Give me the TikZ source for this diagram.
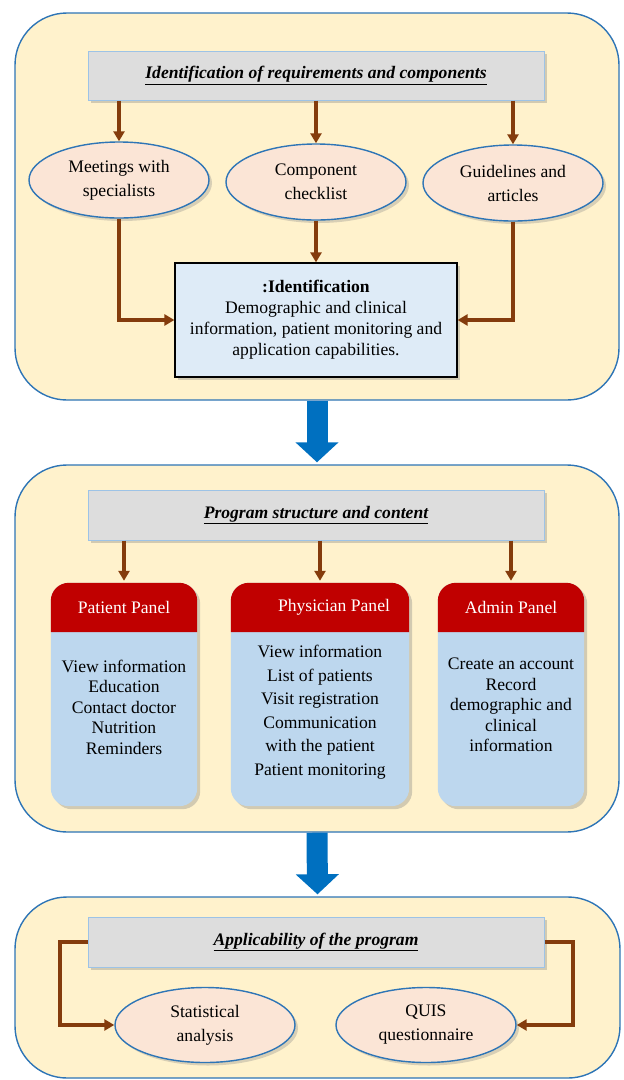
\documentclass[tikz,border=0pt]{standalone}
\usepackage{fontspec}
\setmainfont{Liberation Serif}
\usetikzlibrary{shapes.geometric,shadows,arrows.meta}
\definecolor{cream}{HTML}{FFF2CC}
\definecolor{panelblue}{HTML}{2E75B6}
\definecolor{barfill}{HTML}{DDDDDD}
\definecolor{barline}{HTML}{9DC3E6}
\definecolor{peach}{HTML}{FBE5D6}
\definecolor{idfill}{HTML}{DEEBF7}
\definecolor{brownarr}{HTML}{843C0C}
\definecolor{hdrred}{HTML}{C00000}
\definecolor{bodyblue}{HTML}{BDD7EE}
\definecolor{bigblue}{HTML}{0070C0}
\pgfdeclarelayer{back}
\pgfdeclarelayer{bg}
\pgfsetlayers{back,bg,main}
\tikzset{
  panel/.style={draw=panelblue, line width=1.4pt, fill=cream, rounded corners=52pt, inner sep=0pt},
  bar/.style={draw=barline, line width=1pt, fill=barfill, inner sep=0pt, drop shadow={opacity=0.35, shadow xshift=3pt, shadow yshift=-3pt},
    font=\fontsize{17.6}{20}\selectfont\bfseries\itshape},
  ell/.style={ellipse, draw=panelblue, line width=1.4pt, fill=peach, inner sep=0pt, align=center,
    drop shadow={opacity=0.3, shadow xshift=3pt, shadow yshift=-3pt},
    font=\fontsize{17.6}{24}\selectfont},
  idbox/.style={draw=black, line width=1.2pt, fill=idfill, inner sep=0pt, align=center,
    drop shadow={opacity=0.35, shadow xshift=3pt, shadow yshift=-3pt},
    font=\fontsize{17.6}{21}\selectfont},
  conn/.style={draw=brownarr, line width=3.2pt, -{Triangle[width=11pt,length=10pt]}},
  bigarrow/.style={draw=bigblue, line width=21pt, -{Triangle[width=42pt,length=20pt]}},
  hdr/.style={inner sep=0pt, text=white, font=\fontsize{17.6}{20}\selectfont},
  bodytxt/.style={inner sep=0pt, align=center},
  bodyfill/.style={fill=bodyblue, rounded corners=18pt, drop shadow={opacity=0.35, shadow xshift=3pt, shadow yshift=-3pt}},
  hdrfill/.style={fill=hdrred}
}
\begin{document}
\begin{tikzpicture}[x=1pt,y=-1pt]
\useasboundingbox (0,0) rectangle (624,1080);
\begin{pgfonlayer}{back}
\node (p1) [panel, minimum width=604pt, minimum height=387pt] at (317,206.5) {};
\node (p2) [panel, minimum width=604pt, minimum height=367pt] at (317,648.5) {};
\node (p3) [panel, minimum width=605pt, minimum height=181pt] at (317.5,987.5) {};
\end{pgfonlayer}
% ---------- panel 1 ----------
\node (b1) [bar, minimum width=456pt, minimum height=49pt] at (316,75.5) {\underline{Identification of requirements and components}};
\node (e1) [ell, minimum width=180pt, minimum height=76pt] at (119,180) {Meetings with\\specialists};
\node (e2) [ell, minimum width=180pt, minimum height=76pt] at (316,182) {Component\\checklist};
\node (e3) [ell, minimum width=180pt, minimum height=76pt] at (513,183) {Guidelines and\\articles};
\node (idb) [idbox, minimum width=282pt, minimum height=114pt] at (316,320) {\textbf{:Identification}\\Demographic and clinical\\information, patient monitoring and\\application capabilities.};
\draw[conn] (b1.south -| e1.north) -- (e1.north);
\draw[conn] (b1.south -| e2.north) -- (e2.north);
\draw[conn] (b1.south -| e3.north) -- (e3.north);
\draw[conn] (e1.south) |- (idb.west);
\draw[conn] (e2.south) -- (idb.north -| e2.south);
\draw[conn] (e3.south) |- (idb.east);
% ---------- panel 2 ----------
\draw[bigarrow] (p1.south) -- ([yshift=2pt]p2.north);
\node (b2) [bar, minimum width=456pt, minimum height=50pt] at (316,515) {\underline{Program structure and content}};
\node (h1) [hdr, minimum width=146pt, minimum height=49pt] at (124,607.5) {Patient Panel};
\node (h2) [hdr, minimum width=178pt, minimum height=49pt] at (320,607.5) {\hspace*{28pt}Physician Panel};
\node (h3) [hdr, minimum width=146pt, minimum height=49pt] at (511,607.5) {Admin Panel};
\node (t1) [bodytxt, font=\fontsize{17.6}{20.5}\selectfont] at (124,707) {View information\\Education\\Contact doctor\\Nutrition\\Reminders};
\node (t2) [bodytxt, font=\fontsize{17.6}{23.5}\selectfont] at (320,712) {View information\\List of patients\\Visit registration\\Communication\\with the patient\\Patient monitoring};
\node (t3) [bodytxt, font=\fontsize{17.6}{20.5}\selectfont] at (511,705) {Create an account\\Record\\demographic and\\clinical\\information};
\begin{pgfonlayer}{bg}
  \foreach \h in {h1,h2,h3}{
    \path[bodyfill] (\h.north west) rectangle ([yshift=-174pt]\h.south east);
    \path[hdrfill] (\h.south west) [rounded corners=18pt] -- (\h.north west) -- (\h.north east) [sharp corners] -- (\h.south east) -- cycle;
  }
\end{pgfonlayer}
\draw[conn] (b2.south -| h1.north) -- ([yshift=2pt]h1.north);
\draw[conn] (b2.south -| h2.north) -- ([yshift=2pt]h2.north);
\draw[conn] (b2.south -| h3.north) -- ([yshift=2pt]h3.north);
% ---------- panel 3 ----------
\draw[bigarrow] (p2.south) -- ([yshift=2pt]p3.north);
\node (b3) [bar, minimum width=456pt, minimum height=50pt] at (316,942) {\underline{Applicability of the program}};
\node (s1) [ell, minimum width=180pt, minimum height=75pt] at (205,1025) {Statistical\\analysis};
\node (s2) [ell, minimum width=180pt, minimum height=75pt] at (426,1025) {QUIS\\questionnaire};
\coordinate (c1) at (60,943);
\coordinate (c2) at (573,943);
\draw[conn] (b3.west) -- (b3.west -| c1) |- (s1.west);
\draw[conn] (b3.east) -- (b3.east -| c2) |- (s2.east);
\end{tikzpicture}
\end{document}
